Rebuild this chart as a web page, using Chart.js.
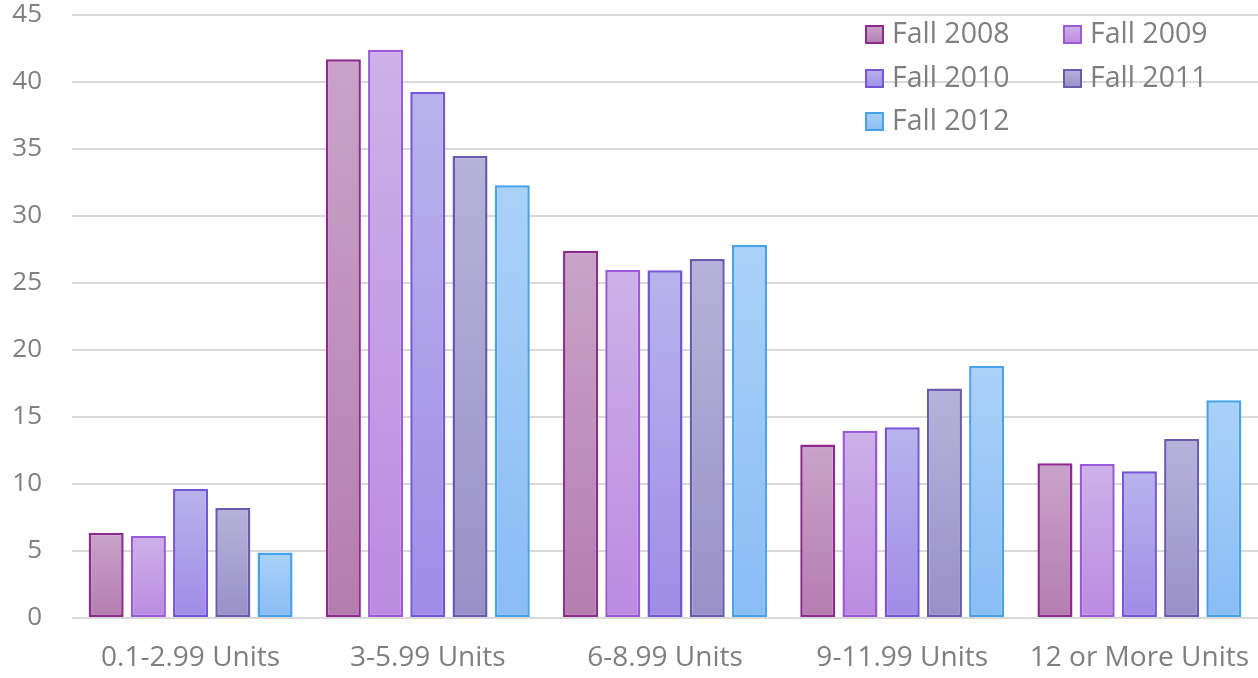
<!DOCTYPE html>
<html>
<head>
<meta charset="utf-8">
<script src="https://cdn.jsdelivr.net/npm/chart.js@4.4.1/dist/chart.umd.min.js"></script>
<style>
  html, body { margin: 0; padding: 0; background: #fff; }
  #wrap { width: 1258px; height: 678px; position: relative; }
</style>
</head>
<body>
<div id="wrap"><canvas id="unitsChart"></canvas></div>
<script>
const categories = ['0.1-2.99 Units', '3-5.99 Units', '6-8.99 Units', '9-11.99 Units', '12 or More Units'];
const seriesNames = ['Fall 2008', 'Fall 2009', 'Fall 2010', 'Fall 2011', 'Fall 2012'];
const fall2008 = [6.37, 41.7, 27.4, 12.95, 11.55];
const fall2009 = [6.12, 42.4, 25.97, 13.98, 11.5];
const fall2010 = [9.63, 39.25, 25.95, 14.23, 10.95];
const fall2011 = [8.2, 34.5, 26.8, 17.12, 13.36];
const fall2012 = [4.88, 32.3, 27.84, 18.8, 16.25];
const yTicks = [0, 5, 10, 15, 20, 25, 30, 35, 40, 45];

// top colour, bottom colour, border colour per series
const palette = [
    ['#c9a3c9', '#b47db0', '#8e2a8e'],
    ['#cdb1e8', '#bb8be0', '#9d5ad8'],
    ['#b9b3ec', '#9f8ce6', '#7555d8'],
    ['#b5b3d9', '#9990c7', '#6a5bb0'],
    ['#aad1f8', '#8abcf5', '#48a2ea']
];

const FONT = "'Open Sans', 'DejaVu Sans', sans-serif";
const TEXT = '#7f7f7f';

function barFill(i) {
    return (ctx) => {
        const chart = ctx.chart;
        if (!chart.chartArea || ctx.type !== 'data') return palette[i][1];
        const y = chart.scales.y;
        const top = y.getPixelForValue(ctx.raw);
        const bottom = y.getPixelForValue(0);
        const g = chart.ctx.createLinearGradient(0, top, 0, bottom);
        g.addColorStop(0, palette[i][0]);
        g.addColorStop(1, palette[i][1]);
        return g;
    };
}

const values = [fall2008, fall2009, fall2010, fall2011, fall2012];
const datasets = seriesNames.map((name, i) => ({
    label: name,
    data: values[i],
    backgroundColor: barFill(i),
    borderColor: palette[i][2],
    borderWidth: 2.5,
    borderSkipped: false,
    categoryPercentage: 0.89,
    barPercentage: 0.83
}));

// legend drawn inside the plot, two columns, top right
const insideLegend = {
    id: 'insideLegend',
    afterDraw(chart) {
        const c = chart.ctx;
        const colX = [865, 1063];
        const rowY = [25, 69, 112];
        const box = 19;
        c.save();
        c.font = '28.5px ' + FONT;
        c.textBaseline = 'middle';
        chart.data.datasets.forEach((ds, i) => {
            const x = colX[i % 2];
            const y = rowY[Math.floor(i / 2)];
            const g = c.createLinearGradient(0, y, 0, y + box);
            g.addColorStop(0, palette[i][0]);
            g.addColorStop(1, palette[i][1]);
            c.fillStyle = g;
            c.fillRect(x, y, box, box);
            c.strokeStyle = palette[i][2];
            c.lineWidth = 2;
            c.strokeRect(x + 1, y + 1, box - 2, box - 2);
            c.fillStyle = TEXT;
            c.fillText(ds.label, x + 27, y + box / 2);
        });
        c.restore();
    }
};

new Chart(document.getElementById('unitsChart'), {
    type: 'bar',
    data: { labels: categories, datasets: datasets },
    options: {
        responsive: true,
        maintainAspectRatio: false,
        animation: false,
        layout: { padding: 0 },
        plugins: {
            legend: { display: false },
            tooltip: { enabled: false }
        },
        scales: {
            x: {
                grid: { display: false, drawTicks: false },
                border: { display: false },
                ticks: { color: TEXT, font: { family: FONT, size: 28 }, padding: 23, maxRotation: 0 },
                afterFit: (s) => { s.height = 60; s.paddingLeft = 0; s.paddingRight = 0; }
            },
            y: {
                min: 0,
                max: 45,
                afterBuildTicks: (s) => { s.ticks = yTicks.map(v => ({ value: v })); },
                grid: { color: '#d9d9d9', lineWidth: 2, drawTicks: false },
                border: { display: false },
                ticks: { color: TEXT, font: { family: FONT, size: 26 }, padding: 30 },
                afterFit: (s) => { s.width = 72; s.paddingTop = 15; s.paddingBottom = 0; }
            }
        }
    },
    plugins: [insideLegend]
});
</script>
</body>
</html>
